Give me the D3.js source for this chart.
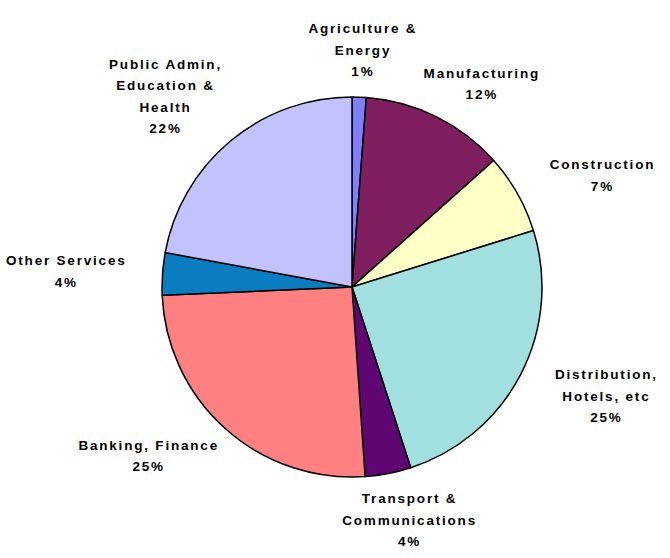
<!DOCTYPE html>
<html>
<head>
<meta charset="utf-8">
<script src="https://cdn.jsdelivr.net/npm/d3@7"></script>
<style>
  body { margin: 0; background: #fff; }
  svg { display: block; }
</style>
</head>
<body>
<svg id="chart"></svg>
<script>
// sector names, split into the lines the labels are printed on
let categories = [
    ['Agriculture &', 'Energy'],
    ['Manufacturing'],
    ['Construction'],
    ['Distribution,', 'Hotels, etc'],
    ['Transport &', 'Communications'],
    ['Banking, Finance'],
    ['Other Services'],
    ['Public Admin,', 'Education &', 'Health']
]
// share of total (%)
let shares = [1.2, 12.2, 6.8, 24.8, 3.9, 25.4, 3.6, 22.1]
let palette = ['#8080ff', '#7f1f5f', '#ffffc6', '#a2e0e0', '#5f0673', '#ff8080', '#0a7dc0', '#c2c2ff']

let opts = {
    width: 670,
    height: 558,
    cx: 352,
    cy: 287,
    radius: 190,
    fontSize: 13.5,
    lineHeight: 21.5,
    gapX: 45,
    gapY: 15
}

let data = categories.map((c, i) => ({ lines: c, value: shares[i] }))
let total = d3.sum(shares)

let svg = d3.select('#chart')
    .attr('width', opts.width)
    .attr('height', opts.height)

let color = d3.scaleOrdinal().domain(d3.range(data.length)).range(palette)
let pie = d3.pie().sort(null).value(d => d.value)
let arc = d3.arc().innerRadius(0).outerRadius(opts.radius)
let arcs = pie(data)

let g = svg.append('g').attr('transform', `translate(${opts.cx},${opts.cy})`)

g.selectAll('path')
    .data(arcs)
    .enter().append('path')
    .attr('d', arc)
    .attr('fill', (d, i) => color(i))
    .attr('stroke', '#000')
    .attr('stroke-width', 1.5)
    .attr('stroke-linejoin', 'round')

// labels: text block pushed out along the slice's mid angle
let labels = svg.selectAll('g.label')
    .data(arcs)
    .enter().append('g')
    .attr('class', 'label')

labels.each(function(d) {
    let lines = d.data.lines.concat([Math.round(d.data.value / total * 100) + '%'])
    let t = d3.select(this).append('text')
        .attr('text-anchor', 'middle')
        .attr('font-family', '"Liberation Sans", Arial, sans-serif')
        .attr('font-weight', 'bold')
        .attr('font-size', opts.fontSize)
        .attr('letter-spacing', 1.8)
        .attr('fill', '#000')
    lines.forEach((l, k) => {
        t.append('tspan')
            .attr('x', 0)
            .attr('y', (k - (lines.length - 1) / 2) * opts.lineHeight)
            .attr('dy', '0.35em')
            .text(l)
    })
    let box = t.node().getBBox()
    let w = box.width, h = lines.length * opts.lineHeight
    let a = (d.startAngle + d.endAngle) / 2
    let x = opts.cx + Math.sin(a) * (opts.radius + opts.gapX + w / 2)
    let y = opts.cy - Math.cos(a) * (opts.radius + opts.gapY + h / 2)
    x = Math.max(w / 2 + 6, Math.min(opts.width - w / 2 - 2, x))
    d3.select(this).attr('transform', `translate(${x},${y})`)
})
</script>
</body>
</html>
